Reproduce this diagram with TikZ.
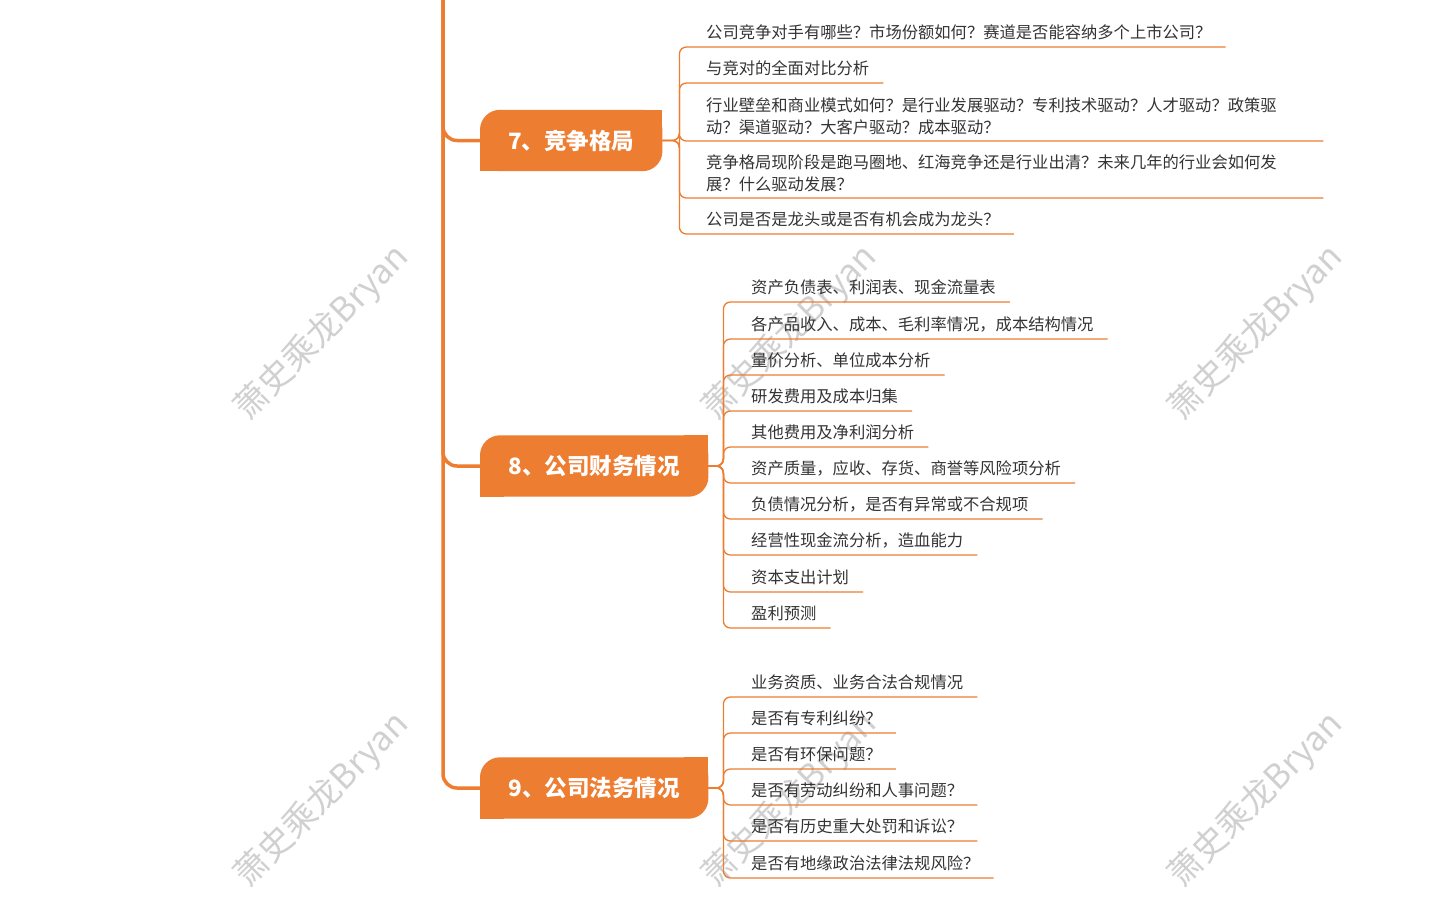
\documentclass[tikz,border=0pt]{standalone}
\usepackage{fontspec}
\newfontfamily\cjk{Noto Sans CJK SC}
\usetikzlibrary{backgrounds}
\definecolor{topicorange}{RGB}{237,125,49}
\definecolor{leaftext}{RGB}{51,51,51}
\definecolor{markgray}{RGB}{208,208,208}
\tikzset{
  topic/.style={anchor=west,minimum height=61pt,inner sep=0pt,text=white,
    font=\cjk\bfseries\fontsize{22.5}{26}\selectfont},
  leaf base/.style={anchor=south west,inner xsep=14pt,text=leaftext,
    font=\cjk\fontsize{16.3}{22}\selectfont},
  leaf/.style={leaf base,inner ysep=8pt,text depth=0pt},
  long leaf/.style={leaf base,inner ysep=6pt,text width=603pt,align=left},
  trunk line/.style={draw=topicorange,line width=3.5pt,rounded corners=14pt},
  leaf line/.style={draw=topicorange,line width=1.3pt,rounded corners=7pt},
  topic fill/.style={fill=topicorange},
  watermark/.style={text=markgray,rotate=45,font=\cjk\fontsize{34}{34}\selectfont}
}
\def\cornerR{20pt}
\newcommand\topicback[1]{%
  \fill[topic fill,rounded corners=\cornerR] (#1.south west) rectangle (#1.north east);
  \fill[topic fill] (#1.north east) rectangle ([xshift=-24pt,yshift=-24pt]#1.north east);
  \fill[topic fill] (#1.south west) rectangle ([xshift=24pt,yshift=24pt]#1.south west);
}

\begin{document}
\begin{tikzpicture}[x=1pt,y=-1pt]
\useasboundingbox (0,0) rectangle (1442,906);
% 水印
\node[watermark] (w1) at (322,333) {萧史乘龙Bryan};
\node[watermark] (w2) at (790,333) {萧史乘龙Bryan};
\node[watermark] (w3) at (1256,333) {萧史乘龙Bryan};
\node[watermark] (w4) at (322,800) {萧史乘龙Bryan};
\node[watermark] (w5) at (790,800) {萧史乘龙Bryan};
\node[watermark] (w6) at (1256,800) {萧史乘龙Bryan};
% 主题
\coordinate (root) at (443,-20);
\node[topic,minimum width=182pt] (t7) at (480,140.5) {7、竞争格局};
\node[topic,minimum width=228pt] (t8) at (480,466) {8、公司财务情况};
\node[topic,minimum width=228pt] (t9) at (480,788) {9、公司法务情况};
\begin{scope}[on background layer]
\topicback{t7}
\topicback{t8}
\topicback{t9}
\end{scope}
\draw[trunk line] (root) |- (t7.west);
\draw[trunk line] (root) |- (t8.west);
\draw[trunk line] (root) |- (t9.west);
% 竞争格局
\coordinate (b7) at ([xshift=17pt]t7.east);
\node[leaf] (c71) at (692,47) {公司竞争对手有哪些？市场份额如何？赛道是否能容纳多个上市公司？};
\node[leaf] (c72) at (692,83) {与竞对的全面对比分析};
\node[long leaf] (c73) at (692,141) {行业壁垒和商业模式如何？是行业发展驱动？专利技术驱动？人才驱动？政策驱\\动？渠道驱动？大客户驱动？成本驱动？};
\node[long leaf] (c74) at (692,198) {竞争格局现阶段是跑马圈地、红海竞争还是行业出清？未来几年的行业会如何发\\展？什么驱动发展？};
\node[leaf] (c75) at (692,234) {公司是否是龙头或是否有机会成为龙头？};
\draw[leaf line] (t7.east) -- (b7) |- (c71.south east);
\draw[leaf line] (t7.east) -- (b7) |- (c72.south east);
\draw[leaf line] (t7.east) -- (b7) |- (c73.south east);
\draw[leaf line] (t7.east) -- (b7) |- (c74.south east);
\draw[leaf line] (t7.east) -- (b7) |- (c75.south east);
% 公司财务情况
\coordinate (b8) at ([xshift=15pt]t8.east);
\node[leaf] (c81) at (737,302) {资产负债表、利润表、现金流量表};
\node[leaf] (c82) at (737,339) {各产品收入、成本、毛利率情况，成本结构情况};
\node[leaf] (c83) at (737,375) {量价分析、单位成本分析};
\node[leaf] (c84) at (737,411) {研发费用及成本归集};
\node[leaf] (c85) at (737,447) {其他费用及净利润分析};
\node[leaf] (c86) at (737,483) {资产质量，应收、存货、商誉等风险项分析};
\node[leaf] (c87) at (737,519) {负债情况分析，是否有异常或不合规项};
\node[leaf] (c88) at (737,555) {经营性现金流分析，造血能力};
\node[leaf] (c89) at (737,592) {资本支出计划};
\node[leaf] (c810) at (737,628) {盈利预测};
\draw[leaf line] (t8.east) -- (b8) |- (c81.south east);
\draw[leaf line] (t8.east) -- (b8) |- (c82.south east);
\draw[leaf line] (t8.east) -- (b8) |- (c83.south east);
\draw[leaf line] (t8.east) -- (b8) |- (c84.south east);
\draw[leaf line] (t8.east) -- (b8) |- (c85.south east);
\draw[leaf line] (t8.east) -- (b8) |- (c86.south east);
\draw[leaf line] (t8.east) -- (b8) |- (c87.south east);
\draw[leaf line] (t8.east) -- (b8) |- (c88.south east);
\draw[leaf line] (t8.east) -- (b8) |- (c89.south east);
\draw[leaf line] (t8.east) -- (b8) |- (c810.south east);
% 公司法务情况
\coordinate (b9) at ([xshift=15pt]t9.east);
\node[leaf] (c91) at (737,697) {业务资质、业务合法合规情况};
\node[leaf] (c92) at (737,733) {是否有专利纠纷？};
\node[leaf] (c93) at (737,769) {是否有环保问题？};
\node[leaf] (c94) at (737,805) {是否有劳动纠纷和人事问题？};
\node[leaf] (c95) at (737,841) {是否有历史重大处罚和诉讼？};
\node[leaf] (c96) at (737,878) {是否有地缘政治法律法规风险？};
\draw[leaf line] (t9.east) -- (b9) |- (c91.south east);
\draw[leaf line] (t9.east) -- (b9) |- (c92.south east);
\draw[leaf line] (t9.east) -- (b9) |- (c93.south east);
\draw[leaf line] (t9.east) -- (b9) |- (c94.south east);
\draw[leaf line] (t9.east) -- (b9) |- (c95.south east);
\draw[leaf line] (t9.east) -- (b9) |- (c96.south east);
\end{tikzpicture}
\end{document}
